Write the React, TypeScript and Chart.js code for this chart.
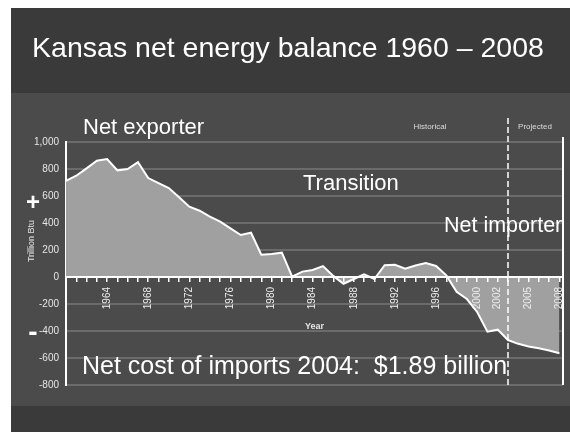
import React, { useEffect, useRef } from "react";
import { Chart, registerables } from "chart.js";

Chart.register(...registerables);

// ---- data ----
const years: number[] = [
  1960, 1961, 1962, 1963, 1964, 1965, 1966, 1967, 1968, 1969,
  1970, 1971, 1972, 1973, 1974, 1975, 1976, 1977, 1978, 1979,
  1980, 1981, 1982, 1983, 1984, 1985, 1986, 1987, 1988, 1989,
  1990, 1991, 1992, 1993, 1994, 1995, 1996, 1997, 1998, 1999,
  2000, 2001, 2002, 2003, 2004, 2005, 2006, 2007, 2008,
];
// Net energy balance, trillion Btu (positive = net exporter)
const netBalance: number[] = [
  713, 750, 805, 861, 874, 790, 800, 850, 733, 695,
  659, 590, 521, 491, 447, 410, 360, 311, 328, 165,
  170, 180, 3, 40, 52, 81, 8, -50, -15, 20,
  -15, 87, 90, 62, 85, 104, 82, 12, -110, -163,
  -259, -405, -390, -467, -495, -515, -528, -545, -565,
];
const xLabelYears: number[] = [1964, 1968, 1972, 1976, 1980, 1984, 1988, 1992, 1996, 2000, 2002, 2005, 2008];
const yTickValues: number[] = [1000, 800, 600, 400, 200, 0, -200, -400, -600, -800];
const projectionStartYear = 2003;

const FONT = '"Liberation Sans", Arial, Helvetica, sans-serif';

const overlayLines = {
  id: "overlayLines",
  afterDatasetsDraw(chart: any) {
    const { ctx, chartArea, scales } = chart;
    const x = scales.x.getPixelForValue(projectionStartYear);
    ctx.save();
    ctx.strokeStyle = "#ffffff";
    ctx.lineWidth = 1.5;
    ctx.setLineDash([6, 3]);
    ctx.beginPath();
    ctx.moveTo(x, chartArea.top - 24);
    ctx.lineTo(x, chartArea.bottom);
    ctx.stroke();
    ctx.setLineDash([]);
    ctx.lineWidth = 2;
    ctx.beginPath();
    ctx.moveTo(chartArea.right, chartArea.top - 5);
    ctx.lineTo(chartArea.right, chartArea.bottom);
    ctx.stroke();
    ctx.restore();
  },
};

function Label(props: { x: number; y: number; text: string; size: number; bold?: boolean; color?: string; anchor?: "left" | "center"; rotate?: number }) {
  const { x, y, text, size, bold, color, anchor, rotate } = props;
  const tx = anchor === "left" ? "0" : "-50%";
  return (
    <div
      style={{
        position: "absolute",
        left: x,
        top: y,
        transform: `translate(${tx}, -50%)` + (rotate ? ` rotate(${rotate}deg)` : ""),
        fontFamily: FONT,
        fontSize: size,
        fontWeight: bold ? "bold" : "normal",
        color: color || "#ffffff",
        lineHeight: 1,
        whiteSpace: "pre",
        pointerEvents: "none",
      }}
    >
      {text}
    </div>
  );
}

export default function App() {
  const canvasRef = useRef<HTMLCanvasElement>(null);

  useEffect(() => {
    document.body.style.margin = "0";
    const canvas = canvasRef.current;
    if (!canvas) return;
    const chart = new Chart(canvas, {
      type: "line",
      data: {
        datasets: [
          {
            label: "Net energy balance",
            data: years.map((yr, i) => ({ x: yr, y: netBalance[i] })),
            fill: "origin",
            backgroundColor: "#a0a0a0",
            borderColor: "#ffffff",
            borderWidth: 2,
            pointRadius: 0,
            tension: 0,
          },
        ],
      },
      options: {
        responsive: false,
        animation: false,
        layout: { padding: { top: 142, bottom: 47, left: 0, right: 7 } },
        plugins: {
          legend: { display: false },
          tooltip: { enabled: false },
          title: { display: false },
        },
        scales: {
          x: {
            type: "linear",
            position: { y: 0 } as any,
            min: 1960,
            max: 2008.35,
            afterBuildTicks: (scale: any) => {
              scale.ticks = years.map((v) => ({ value: v }));
            },
            afterFit: (scale: any) => {
              scale.paddingLeft = 0;
              scale.paddingRight = 0;
            },
            ticks: {
              z: 2,
              autoSkip: false,
              minRotation: 90,
              maxRotation: 90,
              padding: 6,
              color: "#eeeeee",
              font: { family: FONT, size: 10 },
              callback: (value: any) => (xLabelYears.includes(Number(value)) ? String(value) : ""),
            },
            grid: {
              z: 1,
              drawOnChartArea: false,
              drawTicks: true,
              tickLength: 4,
              color: "#ffffff",
              lineWidth: 1.5,
            },
            border: { display: true, color: "#ffffff", width: 2, z: 1 },
            title: {
              display: true,
              text: "Year",
              color: "#e6e6e6",
              font: { family: FONT, size: 9, weight: "bold" },
              padding: { top: 6, bottom: 0 },
            },
          },
          y: {
            type: "linear",
            min: -800,
            max: 1000,
            afterBuildTicks: (scale: any) => {
              scale.ticks = yTickValues.map((v) => ({ value: v }));
            },
            afterFit: (scale: any) => {
              scale.width = 66;
            },
            ticks: {
              padding: 7,
              color: "#e6e6e6",
              font: { family: FONT, size: 10 },
              callback: (value: any) => Number(value).toLocaleString("en-US"),
            },
            grid: {
              drawTicks: false,
              color: (ctx: any) => (ctx.tick && ctx.tick.value === 0 ? "#ffffff" : "rgba(255,255,255,0.18)"),
              lineWidth: 2,
            },
            border: { display: true, color: "#ffffff", width: 2 },
          },
        },
      },
      plugins: [overlayLines],
    });
    return () => chart.destroy();
  }, []);

  return (
    <div style={{ position: "relative", width: 570, height: 432, background: "#ffffff", overflow: "hidden" }}>
      <div style={{ position: "absolute", left: 11, top: 8, right: 0, bottom: 0, background: "#3a3a3a" }} />
      <div style={{ position: "absolute", left: 11, top: 93, right: 0, height: 313, background: "#4b4b4b" }} />
      <canvas ref={canvasRef} width={570} height={432} style={{ position: "absolute", left: 0, top: 0, width: 570, height: 432 }} />
      <Label x={288} y={47} text={"Kansas net energy balance 1960 \u2013 2008"} size={28.5} />
      <Label x={83} y={127} text="Net exporter" size={22} anchor="left" />
      <Label x={303} y={183} text="Transition" size={22} anchor="left" />
      <Label x={444} y={226} text="Net importer" size={21.5} anchor="left" />
      <Label x={82} y={365} text={"Net cost of imports 2004:  $1.89 billion"} size={25} anchor="left" />
      <Label x={430} y={127} text="Historical" size={8} color="#dddddd" />
      <Label x={535} y={127} text="Projected" size={8} color="#dddddd" />
      <Label x={31} y={241} text="Trillion Btu" size={9} color="#e6e6e6" rotate={-90} />
      <Label x={33} y={202} text="+" size={24} bold />
      <Label x={33} y={332} text="-" size={28} bold />
    </div>
  );
}
